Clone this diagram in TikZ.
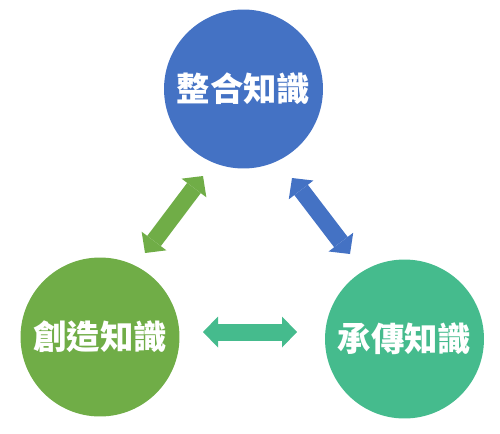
\documentclass[tikz,border=0pt]{standalone}
\usepackage{fontspec}
\usepackage{tikz}
\usetikzlibrary{arrows.meta,positioning}
\newfontfamily\cjk{Noto Sans CJK TC}
\definecolor{kblue}{RGB}{68,114,196}
\definecolor{kgreen}{RGB}{112,173,71}
\definecolor{kteal}{RGB}{69,187,141}
\tikzstyle{knowledge} = [circle, minimum size=3.18cm, inner sep=0pt, text=white, font=\cjk\bfseries\fontsize{19pt}{22pt}\selectfont]
\tikzstyle{link} = [line width=0.34cm, {Triangle[length=0.3cm,width=0.62cm,line width=0pt]}-{Triangle[length=0.3cm,width=0.62cm,line width=0pt]}]

\begin{document}
\begin{tikzpicture}[x=0.02cm, y=-0.02cm]
\useasboundingbox (0,0) rectangle (500,433);
% Circles
\node (integrate) [knowledge, fill=kblue] at (243.5,89) {整合知識};
\node (create) [knowledge, fill=kgreen] at (100,337) {創造知識};
\node (inherit) [knowledge, fill=kteal] at (404.5,339) {承傳知識};

% Arrow ends
\coordinate (g1) at (145,253);
\coordinate (g2) at (203,176);
\coordinate (b1) at (292,178);
\coordinate (b2) at (350,254);
\coordinate (t1) at (203,332);
\coordinate (t2) at (297,332);

% Arrows
\draw[link, kgreen] (g1) -- (g2);
\draw[link, kblue] (b1) -- (b2);
\draw[link, kteal] (t1) -- (t2);
\end{tikzpicture}
\end{document}
